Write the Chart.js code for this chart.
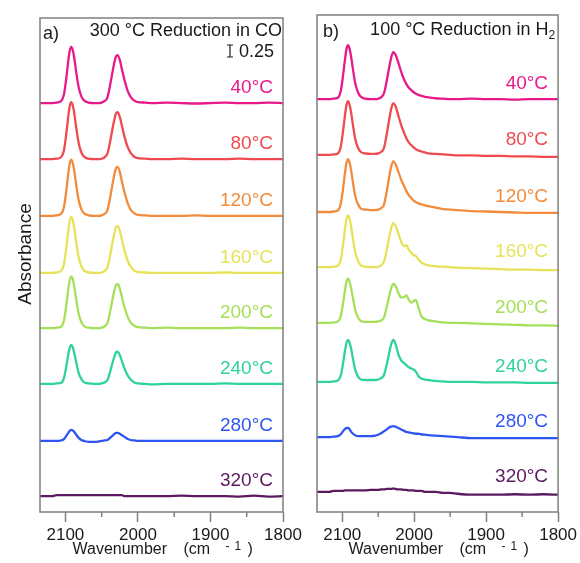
<!DOCTYPE html>
<html><head><meta charset="utf-8">
<script src="https://cdn.jsdelivr.net/npm/chart.js@4.4.1/dist/chart.umd.min.js"></script>
<style>
html,body{margin:0;padding:0;background:#fff;}
#wrap{position:relative;width:580px;height:563px;overflow:hidden;background:#fff;}
canvas{position:absolute;top:0;}
#ca{left:0;} #cb{left:300px;}
</style></head><body>
<div id="wrap"><canvas id="ca" width="310" height="563"></canvas><canvas id="cb" width="280" height="563"></canvas></div>
<script>
// ---- data ----
const temps = ['40°C','80°C','120°C','160°C','200°C','240°C','280°C','320°C'];
const colors = ['#E8198B','#EF4A4F','#F28C3C','#E6E35A','#A6E05A','#2FD396','#2F55F0','#5B1A5F'];
const majorTicks = [2100, 2000, 1900, 1800];
const minorTicks = [2050, 1950, 1850];

// Panel a: 300 °C reduction in CO
const wnA = [2135,2125,2118,2112,2106,2102,2099,2096,2094,2092,2090,2088,2085,2082,2078,2074,2068,2060,2054,2050,2046,2042,2038,2035,2032,2030,2028,2025,2022,2018,2014,2010,2005,2000,1990,1980,1960,1940,1920,1900,1880,1860,1840,1820,1800];
const offsetsA = [8.52,7.35,6.17,4.98,3.83,2.67,1.48,0.33];
const A40  = [0,0,0,0.01,0.04,0.18,0.49,0.88,1.09,1.17,1.11,0.96,0.64,0.35,0.14,0.05,0.01,0,0,0.01,0.04,0.12,0.4,0.65,0.88,0.98,1.0,0.9,0.7,0.45,0.25,0.13,0.05,0.02,0.01,0,0.01,0,-0.01,0,0.01,0,0,0.01,0];
const A80  = [0,0,0,0.01,0.04,0.18,0.5,0.89,1.11,1.19,1.13,0.98,0.65,0.36,0.14,0.05,0.01,0,0,0.01,0.04,0.12,0.39,0.64,0.86,0.96,0.98,0.88,0.69,0.44,0.25,0.13,0.05,0.02,0.01,0,0,0.01,0,0,0,0.01,0,0,0];
const A120 = [0,0,0,0.01,0.04,0.18,0.49,0.88,1.09,1.17,1.11,0.96,0.64,0.35,0.14,0.05,0.01,0,0,0.01,0.04,0.12,0.41,0.66,0.9,1.0,1.02,0.92,0.71,0.46,0.26,0.13,0.05,0.02,0.01,0,0,0,0.01,0,0,0,0,0,0];
const A160 = [0,0,0,0.01,0.04,0.18,0.49,0.88,1.09,1.17,1.11,0.96,0.64,0.35,0.14,0.05,0.01,0,0,0.01,0.04,0.12,0.39,0.64,0.86,0.96,0.98,0.88,0.69,0.44,0.25,0.13,0.05,0.02,0.01,0,0,0,0,0,0.01,0,0,0,0];
const A200 = [0,0,0,0.01,0.03,0.16,0.45,0.81,1.0,1.08,1.03,0.89,0.59,0.32,0.13,0.04,0.01,0,0,0.01,0.04,0.11,0.37,0.6,0.81,0.9,0.92,0.83,0.64,0.41,0.23,0.12,0.05,0.02,0.01,0,0.01,0,0,0,0,0.01,0,0,0];
const A240 = [0,0,0,0.01,0.02,0.12,0.34,0.61,0.75,0.81,0.77,0.66,0.45,0.24,0.1,0.03,0.01,0,0,0.01,0.03,0.08,0.27,0.44,0.59,0.66,0.67,0.6,0.47,0.3,0.17,0.09,0.03,0.01,0,-0.01,0,0,0,0,0.01,0,0,0,0];
const A280 = [0,0,0,0,0.01,0.04,0.1,0.17,0.21,0.23,0.22,0.19,0.13,0.07,0.02,0,-0.02,-0.02,-0.01,0,0.01,0.02,0.07,0.11,0.15,0.17,0.17,0.15,0.12,0.08,0.04,0.02,0.01,0,0,0,0,0,0,0,0,0,0,0,0];
const A320 = [0,0,0,0.02,0.02,0.02,0.02,0.02,0.02,0.02,0.02,0.02,0.02,0.02,0.02,0.02,0.02,0.02,0.02,0.02,0.02,0.02,0.02,0.02,0.02,0.02,0.02,0.02,0.02,0,0,0,0,0,0,0,0,0.01,0,0,0,-0.01,0.01,-0.01,0];

// Panel b: 100 °C reduction in H2
const wnB = [2135,2125,2118,2112,2106,2102,2099,2096,2094,2092,2090,2088,2085,2082,2078,2074,2068,2060,2054,2050,2046,2042,2038,2035,2032,2029,2026,2022,2018,2014,2011,2008,2004,2001,1998,1994,1990,1985,1980,1970,1960,1950,1940,1920,1900,1880,1860,1840,1820,1800];
const offsetsB = [8.60,7.44,6.25,5.10,3.94,2.71,1.56,0.42];
const B40  = [0,0,0,0.01,0.03,0.17,0.47,0.84,1.05,1.125,1.07,0.92,0.62,0.34,0.14,0.05,0.01,0,0,0.01,0.04,0.12,0.39,0.64,0.86,0.98,0.93,0.76,0.57,0.41,0.32,0.25,0.19,0.15,0.12,0.09,0.07,0.05,0.04,0.02,0.01,0,0,0.01,0,0,-0.01,0,0,0];
const B80  = [0,0,0,0.01,0.03,0.17,0.47,0.84,1.04,1.12,1.06,0.92,0.62,0.34,0.15,0.06,0.03,0.02,0.02,0.03,0.06,0.14,0.44,0.71,0.95,1.08,1.02,0.82,0.62,0.46,0.35,0.27,0.2,0.16,0.12,0.09,0.07,0.05,0.03,0.02,0.01,0,-0.01,-0.01,-0.02,-0.02,-0.03,-0.03,-0.04,-0.04];
const B120 = [0,0,0,0.01,0.03,0.17,0.46,0.83,1.02,1.1,1.05,0.9,0.61,0.34,0.16,0.07,0.05,0.04,0.04,0.05,0.08,0.15,0.44,0.7,0.94,1.06,1.0,0.84,0.67,0.54,0.44,0.36,0.29,0.24,0.21,0.18,0.16,0.14,0.12,0.09,0.06,0.05,0.04,0.02,0.01,0,-0.01,-0.02,-0.02,-0.02];
const B160 = [0,0,0,0.01,0.03,0.16,0.45,0.81,1.0,1.08,1.03,0.89,0.59,0.32,0.13,0.04,0.01,0,0,0.01,0.04,0.11,0.37,0.6,0.81,0.92,0.87,0.7,0.53,0.44,0.46,0.38,0.3,0.25,0.24,0.16,0.1,0.06,0.04,0.02,0.01,0,-0.01,-0.02,-0.03,-0.04,-0.05,-0.05,-0.06,-0.06];
const B200 = [0,0,0,0.01,0.03,0.14,0.39,0.69,0.86,0.92,0.87,0.75,0.51,0.28,0.11,0.04,0.02,0.02,0.02,0.03,0.05,0.11,0.34,0.54,0.72,0.81,0.77,0.63,0.53,0.53,0.58,0.5,0.42,0.45,0.48,0.32,0.14,0.08,0.05,0.03,0.01,0,0,-0.01,-0.02,-0.03,-0.04,-0.05,-0.05,-0.06];
const B240 = [0,0,0,0.01,0.03,0.13,0.37,0.66,0.81,0.875,0.83,0.72,0.48,0.26,0.11,0.05,0.04,0.04,0.04,0.05,0.08,0.14,0.37,0.58,0.78,0.875,0.8,0.58,0.45,0.39,0.35,0.31,0.28,0.26,0.22,0.12,0.07,0.05,0.04,0.02,0.01,0,0,0,-0.01,-0.01,-0.01,-0.02,-0.02,-0.02];
const B280 = [0,0,0,0.01,0.02,0.06,0.12,0.17,0.19,0.19,0.17,0.12,0.07,0.04,0.02,0.02,0.02,0.02,0.03,0.05,0.08,0.12,0.16,0.2,0.22,0.23,0.22,0.19,0.16,0.13,0.11,0.1,0.09,0.08,0.07,0.07,0.06,0.05,0.04,0.03,0.02,0.01,0,-0.02,-0.02,-0.02,-0.02,-0.02,-0.02,-0.02];
const B320 = [0,0,0,0.02,0.02,0.02,0.02,0.03,0.03,0.03,0.03,0.03,0.03,0.03,0.03,0.03,0.03,0.04,0.04,0.04,0.05,0.05,0.06,0.06,0.06,0.07,0.06,0.05,0.05,0.04,0.04,0.03,0.03,0.03,0.02,0.02,0.02,0,0,0,-0.02,-0.02,-0.04,-0.06,-0.06,-0.06,-0.05,-0.06,-0.05,-0.06];

const seriesA = [A40,A80,A120,A160,A200,A240,A280,A320];
const seriesB = [B40,B80,B120,B160,B200,B240,B280,B320];

// ---- drawing ----
const FAM = '"Liberation Sans", Arial, sans-serif';
const f = (s) => s + 'px ' + FAM;
const TXT = '#1a1a1a';
const FRAME = '#7f7f7f';

function commonDraw(chart, offsets) {
  const {ctx, chartArea: ca, scales: {x, y}} = chart;
  ctx.save();
  ctx.strokeStyle = FRAME; ctx.lineWidth = 1.5;
  minorTicks.forEach(v => {
    const px = x.getPixelForValue(v);
    ctx.beginPath(); ctx.moveTo(px, ca.bottom); ctx.lineTo(px, ca.bottom + 5); ctx.stroke();
  });
  ctx.strokeRect(ca.left, ca.top, ca.right - ca.left, ca.bottom - ca.top);
  ctx.font = f(19); ctx.textAlign = 'right'; ctx.textBaseline = 'alphabetic';
  offsets.forEach((o, i) => {
    ctx.fillStyle = colors[i];
    ctx.fillText(temps[i], ca.right - 10, y.getPixelForValue(o) - 10);
  });
  const cx = (ca.left + ca.right) / 2 - 89;
  ctx.fillStyle = TXT; ctx.textAlign = 'left';
  ctx.font = f(16);
  ctx.fillText('Wavenumber', cx, 554);
  ctx.fillText('(cm', cx + 111, 554);
  ctx.fillText(')', cx + 175, 554);
  ctx.font = f(12);
  ctx.fillText('-', cx + 153, 550);
  ctx.fillText('1', cx + 162, 550);
  ctx.restore();
}

const plugA = {
  id: 'panelA',
  afterDraw(chart) {
    commonDraw(chart, offsetsA);
    const {ctx, chartArea: ca, scales: {y}} = chart;
    ctx.save();
    ctx.fillStyle = TXT;
    ctx.font = f(18); ctx.textBaseline = 'alphabetic';
    ctx.textAlign = 'left'; ctx.fillText('a)', 43, 39);
    ctx.textAlign = 'right'; ctx.fillText('300 °C Reduction in CO', ca.right - 1, 36);
    const h = y.getPixelForValue(0) - y.getPixelForValue(0.25);
    const bx = 230, bb = 57;
    ctx.strokeStyle = TXT; ctx.lineWidth = 1.2;
    ctx.beginPath();
    ctx.moveTo(bx, bb); ctx.lineTo(bx, bb - h);
    ctx.moveTo(bx - 3, bb); ctx.lineTo(bx + 3, bb);
    ctx.moveTo(bx - 3, bb - h); ctx.lineTo(bx + 3, bb - h);
    ctx.stroke();
    ctx.textAlign = 'left'; ctx.fillText('0.25', 239, 57);
    ctx.translate(26, 254); ctx.rotate(-Math.PI / 2);
    ctx.textAlign = 'center'; ctx.textBaseline = 'middle'; ctx.font = f(19);
    ctx.fillText('Absorbance', 0, 0);
    ctx.restore();
  }
};

const plugB = {
  id: 'panelB',
  afterDraw(chart) {
    commonDraw(chart, offsetsB);
    const {ctx, chartArea: ca} = chart;
    ctx.save();
    ctx.fillStyle = TXT; ctx.textBaseline = 'alphabetic';
    ctx.font = f(18);
    ctx.textAlign = 'left'; ctx.fillText('b)', 23, 37);
    const rx = ca.right - 3;
    ctx.font = f(12); ctx.textAlign = 'right';
    const w2 = ctx.measureText('2').width;
    ctx.fillText('2', rx, 39);
    ctx.font = f(18);
    ctx.fillText('100 °C Reduction in H', rx - w2, 35);
    ctx.restore();
  }
};

function makeChart(id, wn, series, offsets, pad, yMax, plug) {
  return new Chart(document.getElementById(id), {
    type: 'line',
    data: {
      datasets: series.map((s, i) => ({
        label: temps[i],
        data: wn.map((w, j) => ({x: w, y: s[j] + offsets[i]})),
        borderColor: colors[i], borderWidth: 2.3, pointRadius: 0,
        cubicInterpolationMode: 'monotone', fill: false
      }))
    },
    options: {
      responsive: false, animation: false, devicePixelRatio: 1,
      layout: {padding: pad},
      plugins: {legend: {display: false}, tooltip: {enabled: false}},
      scales: {
        x: {
          type: 'linear', reverse: true, min: 1800, max: 2135,
          afterBuildTicks: s => { s.ticks = majorTicks.map(v => ({value: v})); },
          afterFit: s => { s.height = 51; },
          grid: {drawOnChartArea: false, drawTicks: true, tickLength: 10, tickColor: FRAME, tickWidth: 1.5},
          border: {display: false},
          ticks: {color: TXT, font: {family: FAM, size: 17}, padding: 3, maxRotation: 0, autoSkip: false,
                  callback: v => String(v)}
        },
        y: {display: false, min: 0, max: yMax}
      }
    },
    plugins: [plug]
  });
}

makeChart('ca', wnA, seriesA, offsetsA, {left: 40, right: 27, top: 18, bottom: 0}, 494 / 48, plugA);
makeChart('cb', wnB, seriesB, offsetsB, {left: 17, right: 20, top: 15, bottom: 0}, 497 / 48, plugB);
</script>
</body></html>
